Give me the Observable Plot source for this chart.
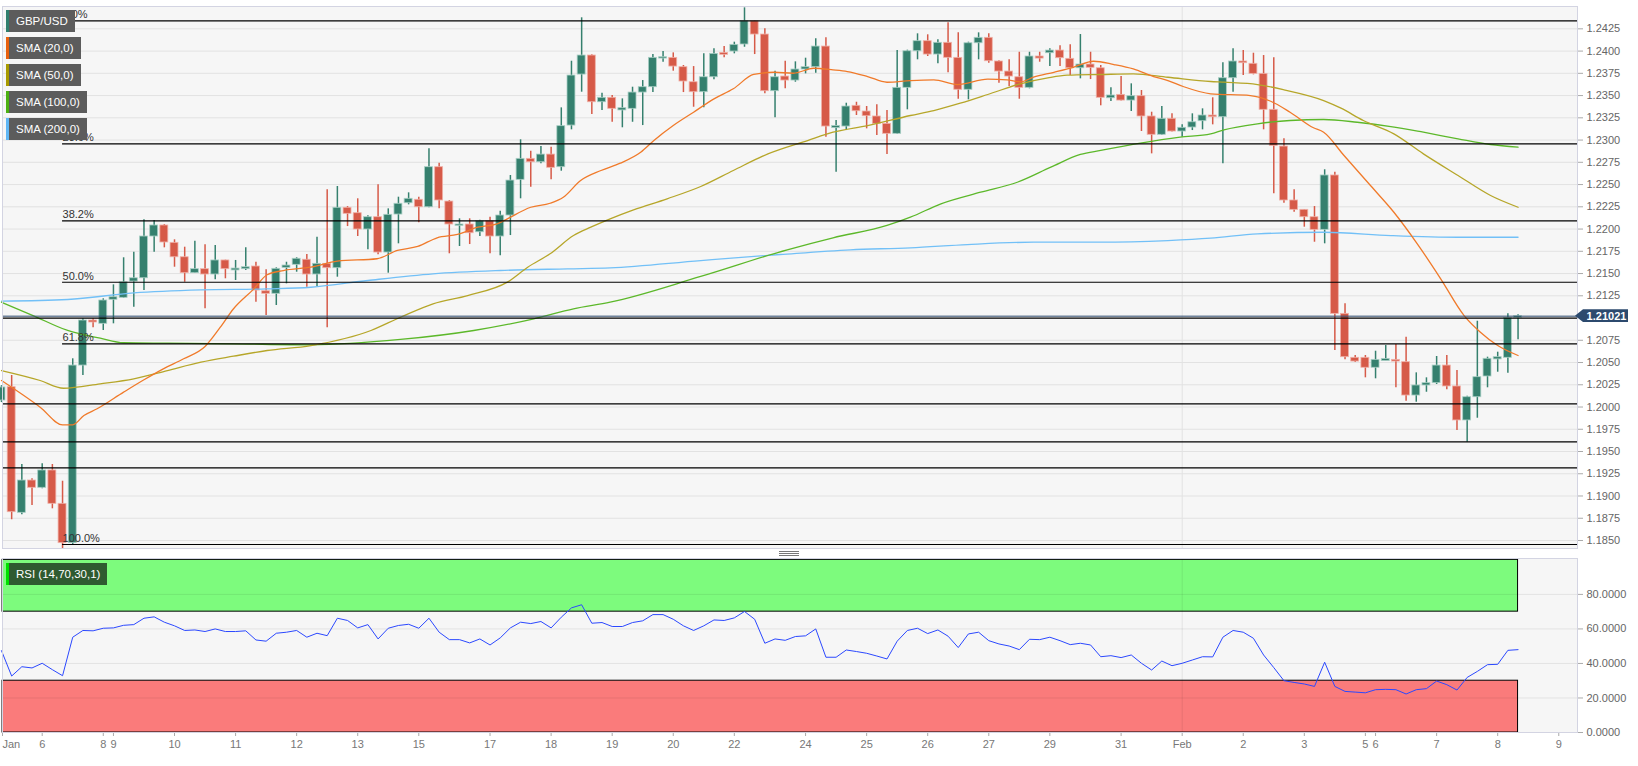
<!DOCTYPE html>
<html><head><meta charset="utf-8">
<script src="https://cdn.jsdelivr.net/npm/d3@7"></script>
<script src="https://cdn.jsdelivr.net/npm/@observablehq/plot@0.6"></script>
<style>
body{margin:0;background:#fff;font-family:"Liberation Sans",Arial,sans-serif;}
#wrap{position:relative;width:1638px;height:766px;overflow:hidden;background:#fff}
#price,#rsi{position:absolute;left:0}
#price{top:0}
#rsi{top:552px}
.leg{position:absolute;left:6px;height:22px;background:#5c5c5c;color:#fff;font-size:11.5px;line-height:22px;padding-left:10px;padding-right:7px;white-space:nowrap;font-family:"Liberation Sans",Arial,sans-serif}
.leg i{position:absolute;left:0;top:0;width:3px;height:22px}
.handle{position:absolute;left:779px;width:20px;height:1px;background:#777}
</style></head><body>
<div id="wrap">
<div id="price"></div>
<div id="rsi"></div>
<div class="handle" style="top:551px"></div>
<div class="handle" style="top:553px"></div>
<div class="handle" style="top:555px"></div>
<div id="legends"></div>
</div>
<script>
// ---------- DATA ----------
const open = [
1.20073,1.20223,1.18811,1.19174,1.19092,1.19287,1.18912,1.18470,1.20466,1.20972,
1.20935,1.21205,1.21227,1.21410,1.21447,1.21916,1.22040,1.21845,1.21683,1.21504,
1.21549,1.21489,1.21647,1.21542,1.21549,1.21579,1.21301,1.21272,1.21564,1.21598,
1.21655,1.21489,1.21609,1.21560,1.22239,1.22178,1.21995,1.22133,1.21736,1.22163,
1.22290,1.22329,1.22245,1.22695,1.22309,1.22036,1.22051,1.21964,1.22088,1.21916,
1.22152,1.22553,1.22789,1.22751,1.22837,1.22695,1.23163,1.23736,1.23950,1.23425,
1.23475,1.23340,1.23351,1.23534,1.23594,1.23916,1.23924,1.23819,1.23650,1.23538,
1.23706,1.23980,1.23995,1.24074,1.24335,1.24186,1.23549,1.23714,1.23669,1.23793,
1.23819,1.24051,1.23141,1.23152,1.23385,1.23321,1.23265,1.23182,1.23070,1.23587,
1.23998,1.24111,1.23961,1.24093,1.23924,1.23565,1.24088,1.24149,1.23883,1.23770,
1.23706,1.23587,1.23939,1.23976,1.24006,1.23913,1.23807,1.23849,1.23807,1.23470,
1.23508,1.23444,1.23493,1.23265,1.23059,1.23239,1.23096,1.23141,1.23212,1.23276,
1.23257,1.23695,1.23883,1.23857,1.23744,1.23340,1.22927,1.22321,1.22216,1.22133,
1.21991,1.22602,1.21047,1.20553,1.20553,1.20441,1.20523,1.20530,1.20504,1.20129,
1.20242,1.20268,1.20466,1.20231,1.19849,1.20110,1.20343,1.20542,1.20553,1.21002];
const high = [
1.20240,1.20354,1.19354,1.19193,1.19362,1.19354,1.19166,1.20542,1.20991,1.20991,
1.21216,1.21373,1.21677,1.21740,1.22104,1.22096,1.22051,1.21879,1.21796,1.21863,
1.21823,1.21815,1.21650,1.21647,1.21789,1.21627,1.21542,1.21564,1.21627,1.21677,
1.21714,1.21908,1.22441,1.22478,1.22253,1.22340,1.22150,1.22497,1.22227,1.22358,
1.22407,1.22358,1.22902,1.22740,1.22320,1.22115,1.22115,1.22100,1.22133,1.22200,
1.22602,1.23003,1.22875,1.22927,1.22920,1.23362,1.23886,1.24374,1.23960,1.23526,
1.23501,1.23463,1.23594,1.23669,1.23961,1.23995,1.23980,1.23838,1.23826,1.23969,
1.24025,1.24051,1.24100,1.24486,1.24340,1.24250,1.23774,1.23886,1.23879,1.23920,
1.24138,1.24149,1.23220,1.23414,1.23425,1.23377,1.23396,1.23332,1.24006,1.24010,
1.24194,1.24183,1.24126,1.24317,1.24205,1.24100,1.24205,1.24194,1.23890,1.23902,
1.23987,1.23987,1.23987,1.24025,1.24059,1.24070,1.24186,1.23987,1.23838,1.23587,
1.23714,1.23632,1.23557,1.23313,1.23377,1.23295,1.23171,1.23295,1.23351,1.23475,
1.23868,1.24025,1.24006,1.23976,1.23950,1.23924,1.23014,1.22441,1.22220,1.22253,
1.22666,1.22639,1.21160,1.20579,1.20579,1.20627,1.20691,1.20703,1.20785,1.20384,
1.20328,1.20568,1.20579,1.20410,1.20120,1.20964,1.20560,1.20616,1.21047,1.21036];
const low = [
1.20050,1.18733,1.18789,1.18893,1.19081,1.18856,1.18410,1.18444,1.20354,1.20890,
1.20860,1.20935,1.21220,1.21122,1.21309,1.21740,1.21789,1.21571,1.21402,1.21500,
1.21104,1.21430,1.21441,1.21422,1.21534,1.21178,1.21028,1.21141,1.21384,1.21515,
1.21346,1.21354,1.20890,1.21459,1.22028,1.21916,1.21767,1.21710,1.21504,1.21834,
1.22272,1.22070,1.22239,1.22227,1.21722,1.21804,1.21826,1.21916,1.21722,1.21699,
1.21927,1.22340,1.22470,1.22733,1.22553,1.22650,1.23115,1.23538,1.23287,1.23332,
1.23200,1.23138,1.23200,1.23163,1.23534,1.23875,1.23774,1.23534,1.23369,1.23362,
1.23677,1.23924,1.23969,1.24043,1.23961,1.23520,1.23250,1.23576,1.23650,1.23744,
1.23751,1.23032,1.22639,1.23107,1.23276,1.23126,1.23051,1.22837,1.23062,1.23340,
1.23902,1.23939,1.23857,1.23756,1.23459,1.23452,1.23902,1.23864,1.23639,1.23602,
1.23459,1.23576,1.23875,1.23826,1.23826,1.23725,1.23688,1.23680,1.23385,1.23433,
1.23440,1.23321,1.23096,1.22845,1.23050,1.23090,1.23032,1.23107,1.23115,1.23171,
1.22733,1.23538,1.23725,1.23733,1.23115,1.22396,1.22290,1.22189,1.22021,1.21852,
1.21834,1.20635,1.20530,1.20500,1.20328,1.20317,1.20520,1.20216,1.20065,1.20054,
1.20166,1.20253,1.20193,1.19736,1.19605,1.19874,1.20216,1.20391,1.20380,1.20756];
const close = [
1.20220,1.18818,1.19174,1.19092,1.19287,1.18912,1.18470,1.20466,1.20972,1.20950,
1.21197,1.21234,1.21402,1.21447,1.21916,1.22040,1.21849,1.21683,1.21504,1.21549,
1.21489,1.21647,1.21549,1.21549,1.21571,1.21309,1.21272,1.21553,1.21590,1.21666,
1.21489,1.21609,1.21560,1.22239,1.22171,1.21995,1.22133,1.21736,1.22160,1.22284,
1.22340,1.22245,1.22695,1.22321,1.22051,1.22051,1.21953,1.22088,1.21916,1.22152,
1.22545,1.22789,1.22751,1.22837,1.22688,1.23156,1.23725,1.23950,1.23425,1.23475,
1.23351,1.23351,1.23534,1.23594,1.23924,1.23931,1.23826,1.23658,1.23538,1.23706,
1.23969,1.23958,1.24070,1.24335,1.24186,1.23549,1.23706,1.23669,1.23793,1.23819,
1.24051,1.23152,1.23152,1.23377,1.23324,1.23268,1.23182,1.23070,1.23587,1.23998,
1.24111,1.23961,1.24093,1.23924,1.23565,1.24088,1.24149,1.23886,1.23770,1.23714,
1.23587,1.23939,1.23916,1.24006,1.23920,1.23807,1.23849,1.23812,1.23475,1.23501,
1.23444,1.23493,1.23265,1.23059,1.23239,1.23096,1.23138,1.23200,1.23276,1.23257,
1.23695,1.23883,1.23864,1.23744,1.23340,1.22935,1.22321,1.22216,1.22133,1.21991,
1.22602,1.21047,1.20560,1.20511,1.20441,1.20530,1.20534,1.20511,1.20129,1.20242,
1.20268,1.20466,1.20231,1.19849,1.20110,1.20335,1.20542,1.20553,1.21002,1.21021];

const sma20 = [[0,1.20298],[3.8,1.19998],[6,1.19800],[7,1.19800],[8.1,1.19905],[9.4,1.19980],[12,1.20167],[14,1.20306],[15.9,1.20429],[17.9,1.20542],[20,1.20680],[21.5,1.20897],[22.8,1.21104],[24.8,1.21328],[26.1,1.21486],[27.7,1.21534],[30.4,1.21571],[33,1.21639],[36.9,1.21666],[38.9,1.21759],[40.9,1.21804],[42.8,1.21902],[44.8,1.21939],[46.8,1.22021],[48.7,1.22059],[49.7,1.22115],[52,1.22245],[53.9,1.22290],[55.2,1.22358],[56.9,1.22545],[58.9,1.22658],[60.8,1.22740],[62.8,1.22863],[64.1,1.22995],[66,1.23163],[68,1.23313],[70,1.23463],[71.9,1.23576],[73.9,1.23737],[75.9,1.23762],[77.8,1.23751],[79.8,1.23807],[81.7,1.23789],[83.1,1.23770],[85.1,1.23714],[87,1.23650],[89.3,1.23669],[91.6,1.23677],[93.9,1.23624],[96.9,1.23684],[98.8,1.23677],[100.1,1.23654],[101.4,1.23706],[103.4,1.23762],[105.3,1.23818],[107.3,1.23886],[109.3,1.23849],[111.2,1.23800],[113.2,1.23714],[114.6,1.23669],[116.1,1.23602],[118.8,1.23520],[122.7,1.23500],[124.7,1.23436],[126.6,1.23313],[128.9,1.23138],[129.9,1.23088],[131.9,1.22826],[134.5,1.22489],[136.8,1.22189],[139.1,1.21834],[141.4,1.21441],[143.7,1.21028],[145.3,1.20841],[147,1.20691],[149,1.20579]];
const sma50 = [[0,1.20410],[3.8,1.20298],[6.1,1.20211],[9.7,1.20261],[13,1.20317],[16.3,1.20410],[19.6,1.20504],[22.8,1.20571],[26.1,1.20635],[30.4,1.20691],[36.3,1.20860],[39.2,1.21009],[42.4,1.21160],[45.8,1.21253],[49.7,1.21403],[51.7,1.21571],[53.9,1.21722],[56.2,1.21927],[57.9,1.22021],[59.8,1.22115],[62.1,1.22216],[65.4,1.22340],[68.7,1.22478],[71.9,1.22658],[75.3,1.22845],[79.2,1.22995],[81.7,1.23088],[85.1,1.23163],[89.3,1.23276],[91.6,1.23332],[94.2,1.23414],[96.9,1.23512],[100.1,1.23632],[102.8,1.23699],[104.7,1.23729],[108,1.23737],[111.2,1.23744],[114.6,1.23706],[118.8,1.23658],[120.1,1.23650],[123.4,1.23624],[126,1.23565],[129.9,1.23444],[131.6,1.23358],[133.8,1.23220],[136.8,1.23070],[139.7,1.22845],[143.1,1.22602],[146.3,1.22377],[149,1.22245]];
const sma100 = [[0,1.21178],[3.1,1.21028],[6.5,1.20860],[9.7,1.20773],[12,1.20722],[16.3,1.20717],[22.8,1.20710],[30.4,1.20699],[39.2,1.20759],[46.4,1.20860],[52.3,1.20991],[56.2,1.21104],[59.8,1.21178],[68.7,1.21467],[77.2,1.21767],[81.7,1.21902],[87,1.22040],[89.3,1.22133],[92.3,1.22284],[96.2,1.22414],[99.8,1.22526],[103.1,1.22695],[106,1.22838],[108,1.22883],[111.9,1.22965],[115.8,1.23032],[118.8,1.23070],[120.1,1.23115],[123.4,1.23183],[126.6,1.23220],[129.9,1.23231],[133.2,1.23200],[136.5,1.23152],[139.7,1.23088],[143.1,1.23014],[146.3,1.22950],[149,1.22920]];
const sma200 = [[0,1.21189],[6.5,1.21208],[13,1.21283],[19.6,1.21317],[26.1,1.21328],[30.4,1.21346],[36,1.21422],[42.4,1.21497],[49,1.21534],[55.6,1.21553],[59.8,1.21564],[68.7,1.21646],[76.5,1.21714],[83.4,1.21767],[89.3,1.21789],[94.9,1.21826],[101.4,1.21852],[108,1.21852],[114.6,1.21871],[118.8,1.21897],[123.4,1.21946],[129.9,1.21964],[136.5,1.21927],[143.1,1.21908],[149,1.21908]];

const rsi = [47.4,32.7,38.1,37.4,40.1,36.4,32.9,55.2,59.1,58.9, 60.4,60.6,62.1,62.5,66.2,67.0,63.9,61.8,59.1,59.4,
58.5,60.0,58.5,58.5,58.9,53.6,52.9,57.5,58.1,59.1, 55.2,57.5,56.1,66.2,64.9,60.6,62.5,54.2,60.4,62.0,
62.7,60.4,66.2,58.1,53.8,53.8,51.9,54.2,50.7,54.8, 60.6,63.9,63.1,64.3,60.6,66.8,72.2,74.0,63.3,63.7,
61.4,61.4,63.7,64.7,68.3,68.3,65.6,61.8,59.1,61.8, 65.2,64.9,66.4,70.1,65.6,51.7,54.2,53.4,55.6,56.0,
60.0,43.6,43.6,47.8,46.9,45.9,44.3,42.6,52.9,59.1, 60.4,57.3,59.4,55.8,49.2,57.1,58.1,53.2,51.3,50.1,
48.0,54.0,53.8,55.2,53.2,50.9,51.7,50.7,43.9,44.5, 43.4,44.9,40.1,36.2,41.4,38.7,40.1,42.0,43.9,43.8,
55.2,59.1,58.1,54.6,44.9,37.6,30.0,29.0,28.1,26.7, 40.7,26.7,23.8,23.4,23.0,24.8,25.0,24.8,22.3,24.8,
25.4,29.8,27.7,24.6,31.9,35.4,39.3,39.5,47.6,48.0];

const fibLabels = ["0.0%","23.6%","38.2%","50.0%","61.8%","100.0%"];
const fibLevels = [1.24340,1.22958,1.22092,1.21402,1.20710,1.18455];
const fibStart = 6;
const extraLevels = [1.21000,1.20036,1.19609,1.19317];
const priceTicks = [1.1850,1.1875,1.1900,1.1925,1.1950,1.1975,1.2000,1.2025,1.2050,1.2075,1.2100,1.2125,1.2150,1.2175,1.2200,1.2225,1.2250,1.2275,1.2300,1.2325,1.2350,1.2375,1.2400,1.2425];
const hiddenTick = 1.2100; // covered by the last-price tag
const rsiTicks = [0,20,40,60,80];
const xTickIdx = [0.1,4,10,11,17,23,29,35,41,48,54,60,66,72,79,85,91,97,103,110,116,122,128,134,135,141,147,153];
const xTickLab = ["Jan","6","8","9","10","11","12","13","15","17","18","19","20","22","24","25","26","27","29","31","Feb","2","3","5","6","7","8","9"];
const febIndex = 116;
const legendNames = ["GBP/USD","SMA (20,0)","SMA (50,0)","SMA (100,0)","SMA (200,0)"];
const legendColors = ["#2f7e6d","#e8600e","#a89a00","#4cb012","#5fb6f5"];
const rsiLegend = "RSI (14,70,30,1)";

// ---------- STYLE ----------
const UP = "#35806e", DOWN = "#d65a48";
const FONT = "Liberation Sans, Arial, sans-serif";
const xDomain = [0.1, 154.84];
const idx = d3.range(open.length);
const last = idx.length - 1;
const isUp = i => close[i] >= open[i];
const bodyLo = i => Math.min(open[i], close[i]) - (Math.abs(open[i]-close[i]) < 0.00012 ? 0.00007 : 0);
const bodyHi = i => Math.max(open[i], close[i]) + (Math.abs(open[i]-close[i]) < 0.00012 ? 0.00007 : 0);
const upIdx = idx.filter(isUp), dnIdx = idx.filter(i => !isUp(i));
const HW = 0.39;
const axisTicks = priceTicks.filter(t => Math.abs(t - hiddenTick) > 1e-9);

const pricePlot = Plot.plot({
  width: 1638, height: 550,
  marginLeft: 2, marginRight: 61, marginTop: 6, marginBottom: 2,
  x: {domain: xDomain, axis: null, label: null},
  y: {domain: [1.18410, 1.24501], axis: null, label: null},
  style: {fontFamily: FONT, background: "transparent", overflow: "visible"},
  marks: [
    Plot.frame({fill: "#f6f6f6"}),
    Plot.ruleY(priceTicks, {stroke: "#e2e2e2"}),
    Plot.ruleX([febIndex], {stroke: "#e2e2e2"}),
    Plot.axisY({anchor: "right", ticks: axisTicks, tickFormat: d => d.toFixed(4), tickSize: 5, tickPadding: 4, fontSize: 11, fill: "#666", stroke: "#aaa", label: null}),
    Plot.ruleX(upIdx, {x: i => i, y1: i => low[i], y2: i => high[i], stroke: UP, strokeWidth: 1.5}),
    Plot.ruleX(dnIdx, {x: i => i, y1: i => low[i], y2: i => high[i], stroke: DOWN, strokeWidth: 1.5}),
    Plot.rect(upIdx, {x1: i => i - HW, x2: i => i + HW, y1: bodyLo, y2: bodyHi, fill: UP, stroke: "#a9cfc5", strokeWidth: 0.8}),
    Plot.rect(dnIdx, {x1: i => i - HW, x2: i => i + HW, y1: bodyLo, y2: bodyHi, fill: DOWN, stroke: "#f0b1a8", strokeWidth: 0.8}),
    Plot.line(sma200, {x: d => d[0], y: d => d[1], stroke: "#72c0f7", strokeWidth: 1.3, curve: "monotone-x"}),
    Plot.line(sma100, {x: d => d[0], y: d => d[1], stroke: "#5cb82a", strokeWidth: 1.3, curve: "monotone-x"}),
    Plot.line(sma50, {x: d => d[0], y: d => d[1], stroke: "#b6a629", strokeWidth: 1.3, curve: "monotone-x"}),
    Plot.line(sma20, {x: d => d[0], y: d => d[1], stroke: "#f07a2a", strokeWidth: 1.3, curve: "monotone-x"}),
    Plot.ruleY(extraLevels, {stroke: "#000", strokeWidth: 1.2}),
    Plot.ruleY(fibLevels, {x1: fibStart, x2: xDomain[1], stroke: "#000", strokeWidth: 1.2}),
    Plot.text(fibLevels, {x: fibStart, y: d => d, text: (d, i) => fibLabels[i], textAnchor: "start", dy: -6, fontSize: 11, fill: "#333"}),
    Plot.ruleY([close[last]], {stroke: "#2c4a6e", strokeWidth: 1}),
    Plot.frame({stroke: "#d3d4e2"})
  ]
});
document.getElementById("price").appendChild(pricePlot);

// last-price tag on the right axis
{
  const yy = pricePlot.scale("y").apply(close[last]);
  const x0 = 1575, x1 = 1583, x2 = 1628, h = 6.3;
  const svg = d3.select(pricePlot);
  svg.append("path").attr("d", `M${x0},${yy}L${x1},${yy-h}L${x2},${yy-h}L${x2},${yy+h}L${x1},${yy+h}Z`).attr("fill", "#2c4a6e");
  svg.append("text").attr("x", (x1 + x2) / 2 + 1).attr("y", yy).attr("dy", "0.36em").attr("text-anchor", "middle")
    .attr("fill", "#fff").attr("font-size", 11).attr("font-weight", "bold").attr("font-family", FONT).text(close[last].toFixed(5));
}

const bands = [{lo: 70, hi: 100, fill: "#7dfb7d"}, {lo: 0, hi: 30, fill: "#fa7b7b"}];
const xTicks = xTickIdx.map((v, k) => ({i: v, label: xTickLab[k]}));
const rsiPlot = Plot.plot({
  width: 1638, height: 214,
  marginLeft: 2, marginRight: 61, marginTop: 6, marginBottom: 34,
  x: {domain: xDomain, axis: null, label: null},
  y: {domain: [0, 100.8], axis: null, label: null},
  style: {fontFamily: FONT, background: "transparent", overflow: "visible"},
  marks: [
    Plot.frame({fill: "#f6f6f6"}),
    Plot.rect(bands, {x1: xDomain[0], x2: last, y1: "lo", y2: "hi", fill: "fill", stroke: "#000", strokeWidth: 1}),
    Plot.ruleY(rsiTicks.slice(1), {stroke: "#000", strokeOpacity: 0.08}),
    Plot.ruleX([febIndex], {stroke: "#000", strokeOpacity: 0.08}),
    Plot.axisY({anchor: "right", ticks: rsiTicks, tickFormat: d => d.toFixed(4), tickSize: 5, tickPadding: 4, fontSize: 11, fill: "#666", stroke: "#aaa", label: null}),
    Plot.axisX({ticks: xTickIdx, tickFormat: () => "", tickSize: 4, stroke: "#aaa", label: null}),
    Plot.text(xTicks.slice(1), {x: "i", text: "label", frameAnchor: "bottom", dy: 15, fontSize: 11, fill: "#777"}),
    Plot.text(xTicks.slice(0, 1), {x: "i", text: "label", frameAnchor: "bottom", dy: 15, textAnchor: "start", fontSize: 11, fill: "#777"}),
    Plot.line(idx, {x: i => i, y: i => rsi[i], stroke: "#2b48ff", strokeWidth: 1}),
    Plot.frame({stroke: "#d3d4e2"})
  ]
});
document.getElementById("rsi").appendChild(rsiPlot);

// legends
const legs = document.getElementById("legends");
legendNames.forEach((name, k) => {
  const d = document.createElement("div");
  d.className = "leg";
  d.style.top = (10 + 27 * k) + "px";
  d.innerHTML = `<i style="background:${legendColors[k]}"></i>${name}`;
  legs.appendChild(d);
});
{
  const d = document.createElement("div");
  d.className = "leg";
  d.style.top = "563px";
  d.style.background = "#2f5a30";
  d.innerHTML = `<i style="background:#00e000"></i>${rsiLegend}`;
  legs.appendChild(d);
}
</script>
</body></html>
